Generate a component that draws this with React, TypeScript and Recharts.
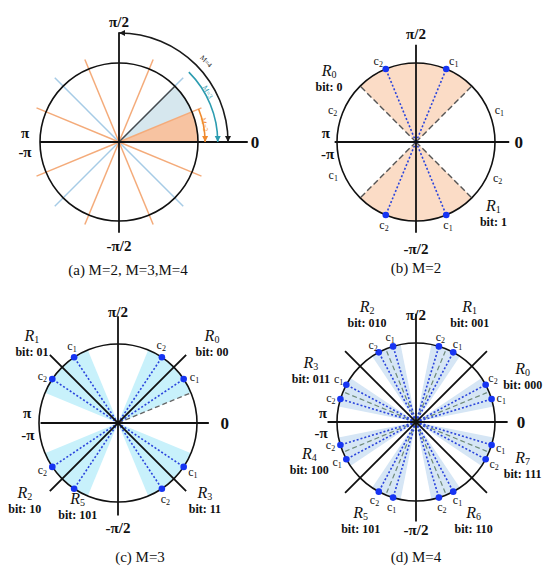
import React from "react";
import { ScatterChart, Scatter, XAxis, YAxis, Sector } from "recharts";

// ---------- data (angles in degrees, counter-clockwise from 0) ----------

// (a) M=2, M=3, M=4
const aOrangeSpokes = [22.5, 67.5, 112.5, 157.5, 202.5, 247.5, 292.5, 337.5];
const aBlueSpokes = [45, 135, 225, 315];
const aOrangeWedge = [[0, 22.5]];
const aBlueWedge = [[22.5, 45]];
const aArcs = [
  { label: "M=4", from: 0, to: 90 },
  { label: "M=3", from: 0, to: 45 },
  { label: "M=2", from: 0, to: 22.5 },
];

// (b) M=2
const bBounds = [45, 135, 225, 315];
const bWedges = [[45, 135], [225, 315]];
const bPoints = [67.5, 112.5, 247.5, 292.5];
const bCLabels = [
  { angle: 21, sub: "1" }, { angle: 65, sub: "1" }, { angle: 115, sub: "2" }, { angle: 159, sub: "2" },
  { angle: 202, sub: "1" }, { angle: 249, sub: "2" }, { angle: 291, sub: "1" }, { angle: 336, sub: "2" },
];
const bRegions = [{ name: "0", bits: "0" }, { name: "1", bits: "1" }];

// (c) M=3
const cBounds = [45, 135];
const cWedges = [[22.5, 67.5], [112.5, 157.5], [202.5, 247.5], [292.5, 337.5]];
const cDashed = [22.5];
const cPoints = [33.75, 56.25, 123.75, 146.25, 213.75, 236.25, 303.75, 326.25];
const cCLabels = [
  { angle: 61, sub: "2" }, { angle: 31, sub: "1" }, { angle: 121, sub: "1" }, { angle: 148, sub: "2" },
  { angle: 212, sub: "2" }, { angle: 327, sub: "1" }, { angle: 302, sub: "2" },
];
const cRegions = [
  { name: "0", bits: "00" }, { name: "1", bits: "01" }, { name: "2", bits: "10" },
  { name: "5", bits: "101" }, { name: "3", bits: "11" },
];

// (d) M=4
const dBounds = [45, 135];
const dCenters = [22.5, 67.5, 112.5, 157.5, 202.5, 247.5, 292.5, 337.5];
const dWedges = [
  [11.25, 33.75], [56.25, 78.75], [101.25, 123.75], [146.25, 168.75],
  [191.25, 213.75], [236.25, 258.75], [281.25, 303.75], [326.25, 348.75],
];
const dPoints = [
  16.875, 28.125, 61.875, 73.125, 106.875, 118.125, 151.875, 163.125,
  196.875, 208.125, 241.875, 253.125, 286.875, 298.125, 331.875, 343.125,
];
const dCLabels = [
  { angle: 15.5, sub: "1" }, { angle: 29.5, sub: "2" }, { angle: 62, sub: "1" }, { angle: 74, sub: "2" },
  { angle: 107, sub: "1" }, { angle: 119, sub: "2" }, { angle: 151, sub: "1" }, { angle: 164, sub: "2" },
  { angle: 195, sub: "2" }, { angle: 207, sub: "1" }, { angle: 242, sub: "2" }, { angle: 254, sub: "1" },
  { angle: 287, sub: "2" }, { angle: 298, sub: "1" }, { angle: 332, sub: "2" }, { angle: 343, sub: "1" },
];
const dRegions = [
  { name: "0", bits: "000" }, { name: "1", bits: "001" }, { name: "2", bits: "010" }, { name: "3", bits: "011" },
  { name: "4", bits: "100" }, { name: "5", bits: "101" }, { name: "6", bits: "110" }, { name: "7", bits: "111" },
];

const axisNames = ["π/2", "-π/2", "π", "-π", "0"];

// ---------- layout ----------
const W = 316;
const D = 2;
const U = W / (2 * D); // px per unit radius
const RAD = Math.PI / 180;
const pt = (deg: number, r = 1) => ({ x: r * Math.cos(deg * RAD), y: r * Math.sin(deg * RAD) });
const SERIF = "Liberation Serif, Times New Roman, Tinos, Times, serif";

// axis extents: [left, right, down, up] and label spots, per panel
const frames: any = {
  a: { c: [119, 142], ext: [-1.0, 1.63, -1.15, 1.39], lab: [[0, 1.52], [0, -1.32], [-1.19, 0.12], [-1.19, -0.13], [1.72, 0]] },
  b: { c: [416, 142], ext: [-1.03, 1.18, -1.15, 1.23], lab: [[0, 1.37], [0, -1.36], [-1.14, 0.12], [-1.12, -0.15], [1.3, 0]] },
  c: { c: [118, 423], ext: [-0.98, 1.15, -1.17, 1.35], lab: [[0, 1.41], [0, -1.33], [-1.15, 0.13], [-1.14, -0.15], [1.35, 0]] },
  d: { c: [416, 422], ext: [-1.12, 1.16, -1.26, 1.37], lab: [[0, 1.36], [0, -1.37], [-1.18, 0.12], [-1.2, -0.14], [1.33, 0]] },
};
const regionSpots: any = {
  b: [[-1.1, 0.91], [0.98, -0.8]],
  c: [[1.19, 1.11], [-1.09, 1.11], [-1.18, -0.87], [-0.51, -0.95], [1.1, -0.87]],
  d: [[1.35, 0.68], [0.68, 1.47], [-0.62, 1.47], [-1.33, 0.76], [-1.35, -0.39], [-0.7, -1.14], [0.73, -1.14], [1.35, -0.44]],
};
const arcStyle = [
  { r: 1.38, color: "#1a1a1a", lab: [1.1, 1.02], rot: 45 },
  { r: 1.25, color: "#2c9cb0", lab: [1.12, 0.63], rot: 62 },
  { r: 1.09, color: "#f08a2e", lab: [1.08, 0.22], rot: 78 },
];

// ---------- helpers ----------
const none = () => <g />;

const seg = (key: string, p1: any, p2: any, stroke: string, width = 1.5, dash?: string) => (
  <Scatter
    key={key}
    data={[p1, p2]}
    fill={stroke}
    line={{ stroke, strokeWidth: width, strokeDasharray: dash }}
    shape={none}
    isAnimationActive={false}
  />
);

const wedges = (key: string, list: number[][], fill: string) => (
  <Scatter
    key={key}
    data={list.map(([a1, a2]) => ({ x: 0, y: 0, a1, a2 }))}
    isAnimationActive={false}
    shape={(p: any) => (
      <Sector cx={p.cx} cy={p.cy} innerRadius={0} outerRadius={U} startAngle={p.payload.a1} endAngle={p.payload.a2} fill={fill} stroke="none" />
    )}
  />
);

const circle = (key: string) => (
  <Scatter
    key={key}
    data={[{ x: 0, y: 0 }]}
    isAnimationActive={false}
    shape={(p: any) => <circle cx={p.cx} cy={p.cy} r={U} fill="none" stroke="#111" strokeWidth={1.6} />}
  />
);

const axes = (f: any) => {
  const [l, r, d, u] = f.ext;
  return [
    seg("hx", { x: l, y: 0 }, { x: r, y: 0 }, "#111", 1.8),
    seg("vy", { x: 0, y: d }, { x: 0, y: u }, "#111", 1.8),
    <Scatter
      key="axlab"
      data={axisNames.map((t, i) => ({ t, x: f.lab[i][0], y: f.lab[i][1] }))}
      isAnimationActive={false}
      shape={(p: any) => (
        <text x={p.cx} y={p.cy} textAnchor="middle" dominantBaseline="central" fontFamily={SERIF} fontWeight="bold" fontSize={p.payload.t === "0" ? 17 : 15} fill="#111">
          {p.payload.t}
        </text>
      )}
    />,
  ];
};

const dots = (key: string, angles: number[]) => (
  <Scatter
    key={key}
    data={angles.map((a) => pt(a))}
    isAnimationActive={false}
    shape={(p: any) => <circle cx={p.cx} cy={p.cy} r={3.3} fill="#1634f2" />}
  />
);

const dotted = (key: string, angles: number[]) =>
  angles.map((a, i) => seg(`${key}${i}`, { x: 0, y: 0 }, pt(a), "#2a44dc", 1.6, "2 2"));

const cLabels = (key: string, list: any[], r: number) => (
  <Scatter
    key={key}
    data={list.map((c) => ({ ...pt(c.angle, r), sub: c.sub }))}
    isAnimationActive={false}
    shape={(p: any) => (
      <text x={p.cx} y={p.cy} textAnchor="middle" dominantBaseline="central" fontFamily={SERIF} fontSize={12} fill="#111">
        c<tspan fontSize={8} dy={3}>{p.payload.sub}</tspan>
      </text>
    )}
  />
);

const regions = (key: string, list: any[], spots: number[][]) => (
  <Scatter
    key={key}
    data={list.map((g, i) => ({ ...g, x: spots[i][0], y: spots[i][1] }))}
    isAnimationActive={false}
    shape={(p: any) => (
      <g>
        <text x={p.cx} y={p.cy} textAnchor="middle" dominantBaseline="central" fontFamily={SERIF} fontSize={16} fill="#111">
          <tspan fontStyle="italic">R</tspan>
          <tspan fontSize={10} dy={4}>{p.payload.name}</tspan>
        </text>
        <text x={p.cx} y={p.cy + 17} textAnchor="middle" dominantBaseline="central" fontFamily={SERIF} fontWeight="bold" fontSize={12} fill="#111">
          bit: {p.payload.bits}
        </text>
      </g>
    )}
  />
);

function Panel({ f, children }: { f: any; children: any }) {
  return (
    <div style={{ position: "absolute", left: f.c[0] - W / 2, top: f.c[1] - W / 2, width: W, height: W }}>
      <ScatterChart width={W} height={W} margin={{ top: 0, right: 0, bottom: 0, left: 0 }}>
        <XAxis type="number" dataKey="x" domain={[-D, D]} hide allowDataOverflow />
        <YAxis type="number" dataKey="y" domain={[-D, D]} hide allowDataOverflow />
        {children}
      </ScatterChart>
    </div>
  );
}

function Caption({ x, y, text }: { x: number; y: number; text: string }) {
  return (
    <div style={{ position: "absolute", left: x, top: y, transform: "translate(-50%, -50%)", fontFamily: SERIF, fontSize: 15, color: "#111", whiteSpace: "nowrap" }}>
      {text}
    </div>
  );
}

// ---------- panels ----------
function PanelA() {
  const f = frames.a;
  return (
    <Panel f={f}>
      {wedges("ow", aOrangeWedge, "#f7c3a1")}
      {wedges("bw", aBlueWedge, "#d6e7ee")}
      {aBlueSpokes.map((a, i) => seg(`bs${i}`, { x: 0, y: 0 }, pt(a, 1.15), "#a6cbe6", 1.5))}
      {aOrangeSpokes.map((a, i) => seg(`os${i}`, { x: 0, y: 0 }, pt(a, 1.13), "#f4ab7a", 1.5))}
      {seg("edge", { x: 0, y: 0 }, pt(45), "#4a4a4a", 1.4)}
      {circle("circ")}
      {axes(f)}
      {aArcs.map((arc, i) => (
        <Scatter
          key={`arc${i}`}
          data={[{ x: 0, y: 0, a1: arc.from, a2: arc.to }]}
          isAnimationActive={false}
          shape={(p: any) => (
            <Sector cx={p.cx} cy={p.cy} innerRadius={arcStyle[i].r * U - 0.8} outerRadius={arcStyle[i].r * U + 0.8} startAngle={p.payload.a1} endAngle={p.payload.a2} fill={arcStyle[i].color} />
          )}
        />
      ))}
      {aArcs.map((arc, i) => (
        <Scatter
          key={`tip${i}`}
          data={[pt(arc.from, arcStyle[i].r)]}
          isAnimationActive={false}
          shape={(p: any) => <path d={`M${p.cx - 3},${p.cy - 6}L${p.cx + 3},${p.cy - 6}L${p.cx},${p.cy}Z`} fill={arcStyle[i].color} />}
        />
      ))}
      <Scatter
        key="tipTop"
        data={[pt(aArcs[0].to, arcStyle[0].r)]}
        isAnimationActive={false}
        shape={(p: any) => <path d={`M${p.cx},${p.cy}L${p.cx + 6},${p.cy - 3}L${p.cx + 6},${p.cy + 3}Z`} fill={arcStyle[0].color} />}
      />
      {aArcs.map((arc, i) => (
        <Scatter
          key={`alab${i}`}
          data={[{ x: arcStyle[i].lab[0], y: arcStyle[i].lab[1], t: arc.label }]}
          isAnimationActive={false}
          shape={(p: any) => (
            <text x={p.cx} y={p.cy} textAnchor="middle" dominantBaseline="central" fontFamily={SERIF} fontSize={7} fill={arcStyle[i].color} transform={`rotate(${arcStyle[i].rot} ${p.cx} ${p.cy})`}>
              {p.payload.t}
            </text>
          )}
        />
      ))}
    </Panel>
  );
}

function PanelB() {
  const f = frames.b;
  return (
    <Panel f={f}>
      {wedges("w", bWedges, "#fbdcc6")}
      {bBounds.map((a, i) => seg(`bd${i}`, { x: 0, y: 0 }, pt(a), "#555", 1.4, "6 3"))}
      {dotted("dl", bPoints)}
      {circle("circ")}
      {axes(f)}
      {dots("dots", bPoints)}
      {cLabels("cl", bCLabels, 1.13)}
      {regions("rg", bRegions, regionSpots.b)}
    </Panel>
  );
}

function PanelC() {
  const f = frames.c;
  return (
    <Panel f={f}>
      {wedges("w", cWedges, "#c8f1fb")}
      {cDashed.map((a, i) => seg(`cd${i}`, { x: 0, y: 0 }, pt(a), "#666", 1.3, "5 3"))}
      {dotted("dl", cPoints)}
      {cBounds.map((a, i) => seg(`bd${i}`, pt(a + 180, 1.22), pt(a, 1.22), "#111", 1.8))}
      {circle("circ")}
      {axes(f)}
      {dots("dots", cPoints)}
      {cLabels("cl", cCLabels, 1.13)}
      {regions("rg", cRegions, regionSpots.c)}
    </Panel>
  );
}

function PanelD() {
  const f = frames.d;
  return (
    <Panel f={f}>
      {wedges("w", dWedges, "#d6e6f5")}
      {dCenters.map((a, i) => seg(`cd${i}`, { x: 0, y: 0 }, pt(a, 0.97), "#6e8a78", 1.2, "5 3"))}
      {dotted("dl", dPoints)}
      {dBounds.map((a, i) => seg(`bd${i}`, pt(a + 180, 1.27), pt(a, 1.27), "#111", 1.8))}
      {circle("circ")}
      {axes(f)}
      {dots("dots", dPoints)}
      {cLabels("cl", dCLabels, 1.12)}
      {regions("rg", dRegions, regionSpots.d)}
    </Panel>
  );
}

export default function App() {
  return (
    <div style={{ position: "absolute", left: 0, top: 0, width: 552, height: 574, background: "#fff", overflow: "hidden" }}>
      <PanelA />
      <PanelB />
      <PanelC />
      <PanelD />
      <Caption x={128} y={270} text="(a) M=2, M=3,M=4" />
      <Caption x={416} y={268} text="(b) M=2" />
      <Caption x={140} y={557} text="(c) M=3" />
      <Caption x={416} y={557} text="(d) M=4" />
    </div>
  );
}
